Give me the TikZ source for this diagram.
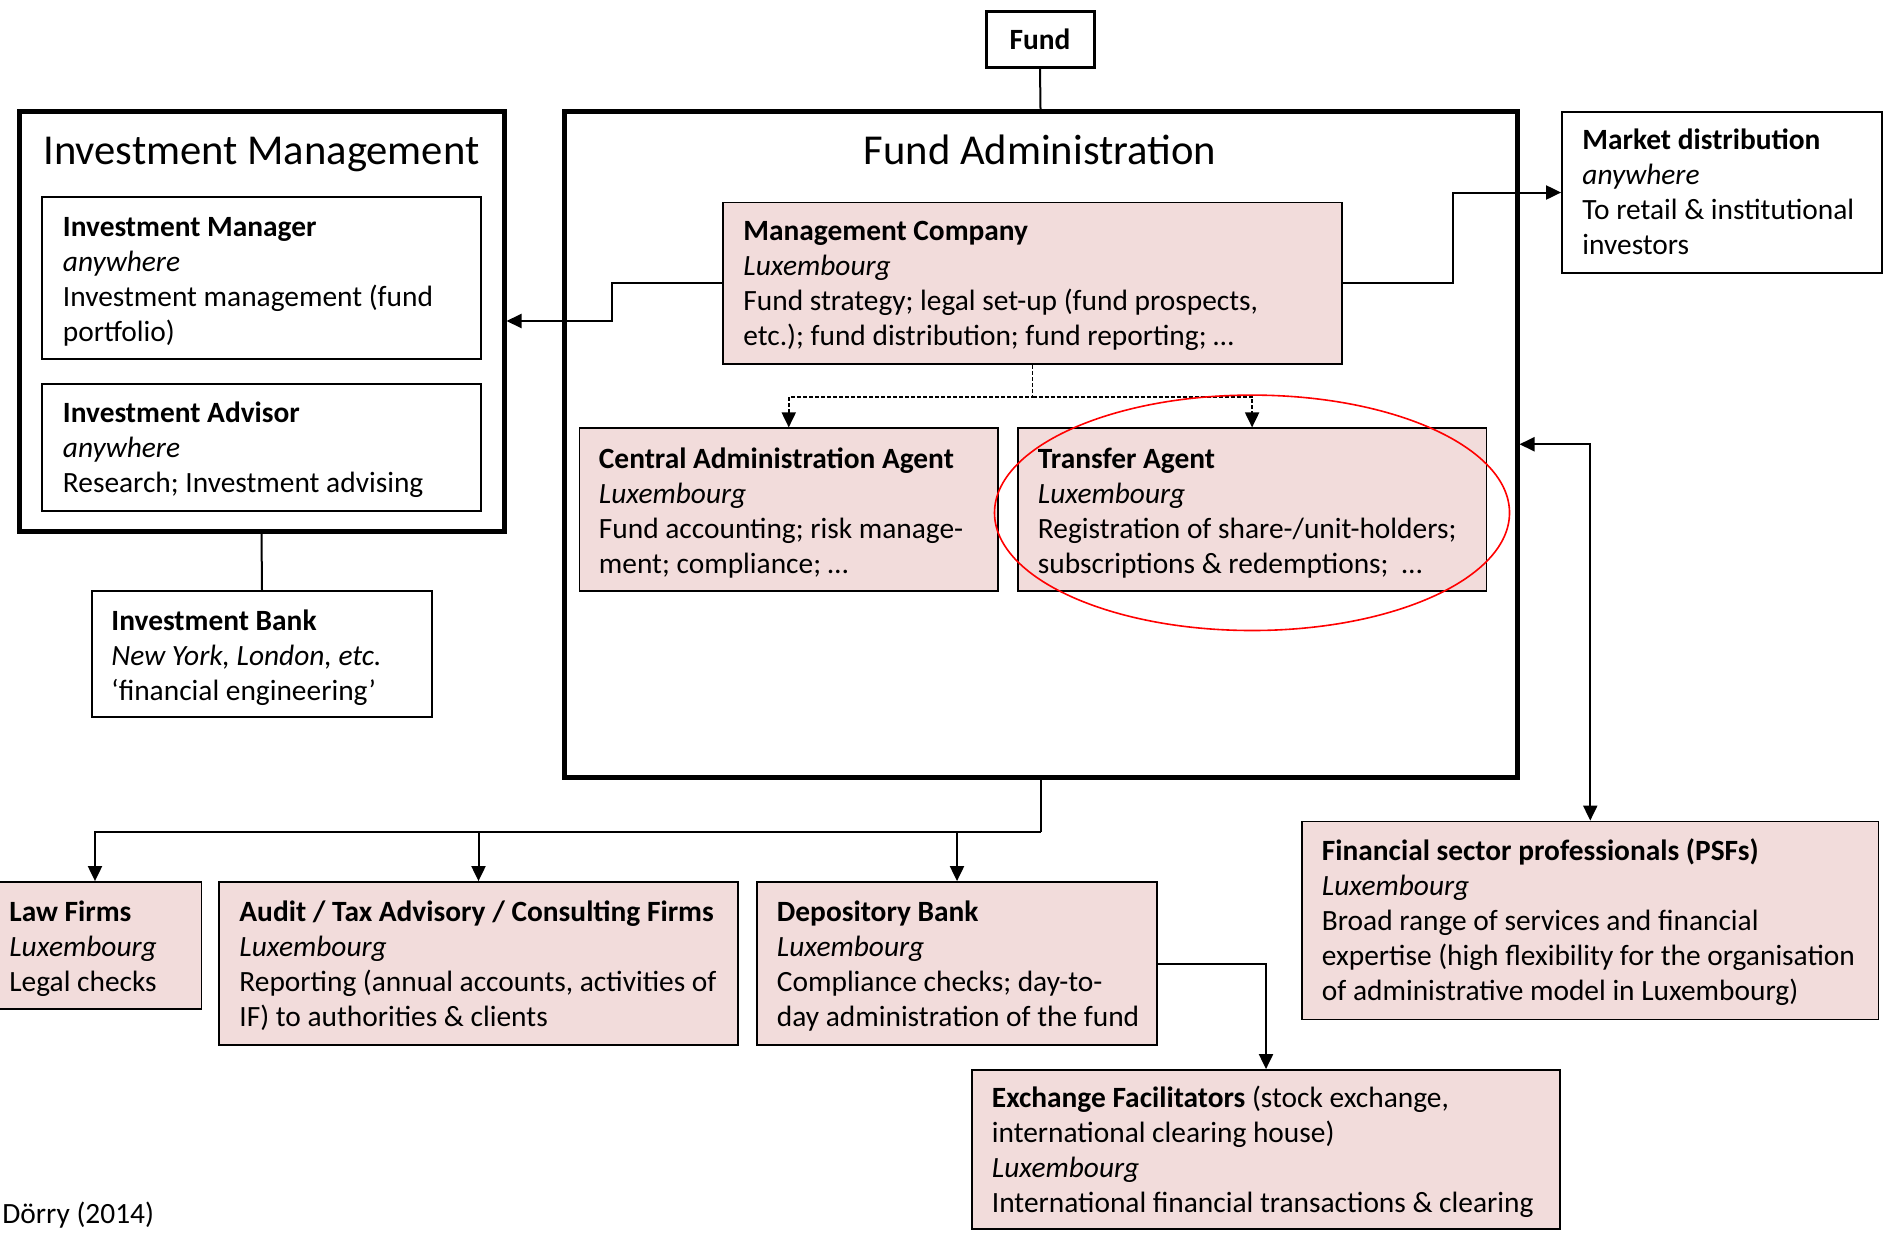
\documentclass[tikz,border=0pt]{standalone}
\usepackage{fontspec}
\setmainfont{Carlito}
\usetikzlibrary{arrows.meta,fit}
\definecolor{boxpink}{HTML}{F2DCDB}
\newcommand\hs{\rule{0pt}{12.75pt}}
\frenchspacing
\begin{document}
\begin{tikzpicture}[x=0.5pt,y=-0.5pt,
  body/.style={font=\fontsize{14.7pt}{17.5pt}\selectfont},
  thinbox/.style={draw, line width=0.9pt, inner sep=0pt},
  pinkbox/.style={thinbox, fill=boxpink},
  heavybox/.style={draw, line width=2.5pt, inner sep=0pt},
  txt/.style={body, anchor=north west, inner sep=0pt, align=left},
  title/.style={font=\fontsize{21.3pt}{25pt}\selectfont, inner sep=0pt},
  conn/.style={line width=1pt},
  arr/.style={conn, -{Triangle[length=7.5pt,width=7pt]}},
  arrboth/.style={conn, {Triangle[length=7.5pt,width=7pt]}-{Triangle[length=7.5pt,width=7pt]}},
  darr/.style={line width=0.95pt, dash pattern=on 2pt off 1pt, -{Triangle[length=7.5pt,width=7pt]}}
]
\fill[white] (0,0) rectangle (1883,1232);
\useasboundingbox (0,0) rectangle (1883,1232);

% --- frames and boxes ---
\node[draw, line width=1.5pt, inner sep=0pt, fit={(986,11) (1094,67)}] (fund) {};
\node[heavybox, fit={(19,111) (504,531)}] (im) {};
\node[heavybox, fit={(564,111.5) (1517,777)}] (fa) {};
\node[thinbox, fit={(42,197) (481,359)}] (imgr) {};
\node[thinbox, fit={(42,384) (481,511)}] (iadv) {};
\node[thinbox, fit={(92,591) (432,717)}] (ib) {};
\node[pinkbox, fit={(723,202.5) (1342,364)}] (mc) {};
\node[pinkbox, fit={(579.5,428.3) (998,591)}] (caa) {};
\node[pinkbox, fit={(1017.7,428.3) (1486.5,591)}] (ta) {};
\node[thinbox, fit={(1562,112) (1882,273)}] (mkt) {};
\node[pinkbox, fit={(-11.5,882) (201.5,1009)}] (law) {};
\node[pinkbox, fit={(219,882) (738,1045)}] (audit) {};
\node[pinkbox, fit={(757,882) (1157,1045)}] (dep) {};
\node[pinkbox, fit={(1302,821.5) (1878.5,1019.5)}] (psf) {};
\node[pinkbox, fit={(972,1070) (1560,1229)}] (exch) {};

% --- texts ---
\node[body, anchor=base, inner sep=0pt] (fund-t) at (1040,49.5) {\textbf{Fund}};
\node[title, anchor=base west] (im-t) at (43,164.5) {Investment Management};
\node[title, anchor=base] (fa-t) at (1040,164.5) {Fund Administration};

\node[txt] (imgr-t) at (62.5,211) {\hs\textbf{Investment Manager}\\ \textit{anywhere}\\ Investment management (fund\\ portfolio)};
\node[txt] (iadv-t) at (62.5,397) {\hs\textbf{Investment Advisor}\\ \textit{anywhere}\\ Research; Investment advising};
\node[txt] (ib-t) at (111,604.5) {\hs\textbf{Investment Bank}\\ \textit{New York, London, etc.}\\ ‘financial engineering’};
\node[txt] (mc-t) at (743,215) {\hs\textbf{Management Company}\\ \textit{Luxembourg}\\ Fund strategy; legal set-up (fund prospects,\\ etc.); fund distribution; fund reporting; …};
\node[txt] (caa-t) at (598.5,442.5) {\hs\textbf{Central Administration Agent}\\ \textit{Luxembourg}\\ Fund accounting; risk manage-\\ ment; compliance; …};
\node[txt] (ta-t) at (1037.5,442.5) {\hs\textbf{Transfer Agent}\\ \textit{Luxembourg}\\ Registration of share-/unit-holders;\\ subscriptions \& redemptions;\ \ …};
\node[txt] (mkt-t) at (1582,124) {\hs\textbf{Market distribution}\\ \textit{anywhere}\\ To retail \& institutional\\ investors};
\node[txt] (law-t) at (9,896) {\hs\textbf{Law Firms}\\ \textit{Luxembourg}\\ Legal checks};
\node[txt] (audit-t) at (239,896) {\hs\textbf{Audit / Tax Advisory / Consulting Firms}\\ \textit{Luxembourg}\\ Reporting (annual accounts, activities of\\ IF) to authorities \& clients};
\node[txt] (dep-t) at (776.5,896) {\hs\textbf{Depository Bank}\\ \textit{Luxembourg}\\ Compliance checks; day-to-\\ day administration of the fund};
\node[txt] (psf-t) at (1321.5,834.5) {\hs\textbf{Financial sector professionals (PSFs)}\\ \textit{Luxembourg}\\ Broad range of services and financial\\ expertise (high flexibility for the organisation\\ of administrative model in Luxembourg)};
\node[txt] (exch-t) at (991.5,1082) {\hs\textbf{Exchange Facilitators} (stock exchange,\\ international clearing house)\\ \textit{Luxembourg}\\ International financial transactions \& clearing};
\node[body, anchor=base west, inner sep=0pt] (src) at (2,1223) {Dörry (2014)};

% --- connectors ---
\draw[conn] (fund.south) -- (fa.north);
\draw[conn] (im.south) -- (ib.north);
\draw[arr] (mc.west) -- ++(-110,0) |- (im.east);
\draw[arr] (mc.east) -- ++(110,0) |- (mkt.west);
\draw[arrboth] (fa.east) -| (psf.north);
\draw[darr] (mc.south) -- ++(0,32) coordinate (split) -| (caa.north);
\draw[darr] (split) -| (ta.north);
\draw[conn] (fa.south) -- ++(0,52.6) coordinate (bus);
\draw[arr] (bus) -| (law.north);
\draw[arr] (bus) -| (audit.north);
\draw[arr] (bus) -| (dep.north);
\draw[arr] (dep.east) -| (exch.north);

% highlight around the transfer agent
\draw[red, line width=0.8pt] (1252,512.8) ellipse [x radius=257.5, y radius=117.7];
\end{tikzpicture}
\end{document}
